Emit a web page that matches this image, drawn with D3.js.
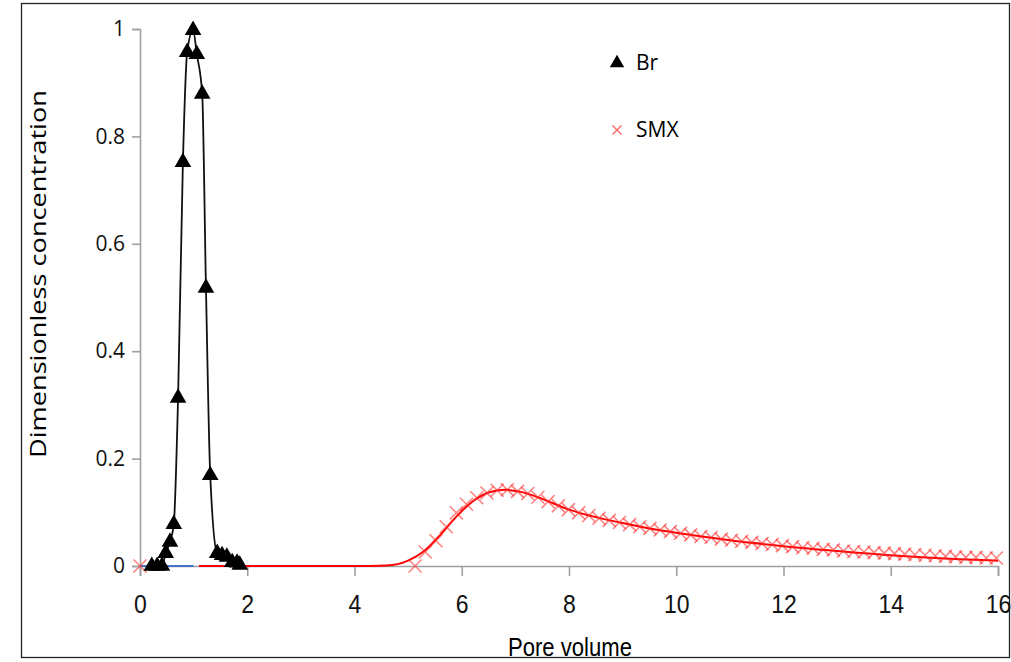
<!DOCTYPE html>
<html>
<head>
<meta charset="utf-8">
<script src="https://cdn.jsdelivr.net/npm/d3@7.9.0/dist/d3.min.js"></script>
<style>
  body { margin: 0; background: #fff; }
  svg { display: block; }
  .tick text { fill: #111; }
</style>
</head>
<body>
<svg id="chart" width="1011" height="662"></svg>
<script>
// Br observations (triangles)
const brPV = [0.22, 0.32, 0.41, 0.48, 0.56, 0.63, 0.71, 0.80, 0.88, 0.99, 1.06, 1.16, 1.23, 1.31, 1.44, 1.53, 1.62, 1.72, 1.81, 1.86];
const brC  = [0, 0, 0, 0.024, 0.045, 0.078, 0.313, 0.752, 0.957, 0.998, 0.953, 0.879, 0.518, 0.169, 0.024, 0.020, 0.017, 0.007, 0.006, 0.002];

// SMX observations (crosses)
const smxPV = [0, 5.13, 5.32, 5.52, 5.71, 5.90, 6.09, 6.28, 6.47, 6.66, 6.85, 7.04, 7.23, 7.42, 7.61, 7.80, 7.99,
  8.18, 8.37, 8.56, 8.75, 8.94, 9.13, 9.32, 9.51, 9.70, 9.89, 10.08, 10.27, 10.46, 10.65, 10.84, 11.03,
  11.22, 11.41, 11.60, 11.79, 11.98, 12.17, 12.36, 12.55, 12.74, 12.93, 13.12, 13.31, 13.50, 13.69, 13.88,
  14.07, 14.26, 14.45, 14.64, 14.83, 15.02, 15.21, 15.40, 15.59, 15.78, 15.97];
const smxC = [0, 0.000, 0.026, 0.047, 0.073, 0.099, 0.115, 0.127, 0.136, 0.141, 0.142, 0.139, 0.135, 0.128, 0.120, 0.112, 0.105,
  0.099, 0.094, 0.089, 0.085, 0.081, 0.077, 0.073, 0.070, 0.067, 0.064, 0.061, 0.058, 0.055, 0.053, 0.050, 0.048,
  0.046, 0.044, 0.042, 0.040, 0.038, 0.036, 0.034, 0.033, 0.031, 0.030, 0.028, 0.027, 0.026, 0.025, 0.024,
  0.023, 0.022, 0.021, 0.020, 0.019, 0.018, 0.017, 0.016, 0.016, 0.015, 0.015];

// fitted curves
const smxFitPV = [1.1, 2, 3, 4, 4.6, 5.0, 5.3, 5.6, 5.9, 6.2, 6.5, 6.8, 7.1, 7.5, 8, 8.5, 9, 9.5, 10, 11, 12, 13, 14, 15, 16];
const smxFitC  = [0, 0, 0, 0, 0.001, 0.010, 0.028, 0.058, 0.092, 0.120, 0.137, 0.142, 0.138, 0.125, 0.105, 0.091, 0.080, 0.070, 0.062, 0.048, 0.037, 0.028, 0.020, 0.014, 0.010];
const blueFitPV = [0, 1.0];
const blueFitC  = [0, 0];

const xTicks = [0, 2, 4, 6, 8, 10, 12, 14, 16];
const yTicks = [0, 0.2, 0.4, 0.6, 0.8, 1];

const svg = d3.select('#chart');

// outer frame
svg.append('rect')
  .attr('x', 21.5).attr('y', 3.5)
  .attr('width', 988).attr('height', 654)
  .attr('fill', 'none').attr('stroke', '#222').attr('stroke-width', 1.3);

const x = d3.scaleLinear().domain([0, 16]).range([140, 998]);
const y = d3.scaleLinear().domain([0, 1]).range([566, 29]);

// y axis
const yAxis = svg.append('g')
  .attr('transform', 'translate(140,0)')
  .call(d3.axisLeft(y).tickValues(yTicks).tickSize(8).tickPadding(7).tickFormat(d3.format('~g')));
yAxis.selectAll('.domain, .tick line').attr('stroke', '#a0a0a0').attr('stroke-width', 1.6);
yAxis.selectAll('.tick text')
  .attr('font-family', 'Open Sans, Noto Sans, sans-serif')
  .attr('font-size', 21);

// x axis on the zero line
const xAxis = svg.append('g')
  .attr('transform', `translate(0,${y(0)})`)
  .call(d3.axisBottom(x).tickValues(xTicks).tickSize(10).tickPadding(19));
xAxis.selectAll('.domain, .tick line').attr('stroke', '#a0a0a0').attr('stroke-width', 1.6);
xAxis.selectAll('.tick text')
  .attr('font-family', 'Liberation Sans Narrow, Arial Narrow, sans-serif')
  .attr('font-size', 25)
  .attr('transform', 'scale(0.92,1)');

// axis titles
svg.append('text')
  .attr('x', 570).attr('y', 656)
  .attr('text-anchor', 'middle')
  .attr('font-family', 'Liberation Sans Narrow, sans-serif')
  .attr('font-size', 25)
  .attr('textLength', 124).attr('lengthAdjust', 'spacingAndGlyphs')
  .text('Pore volume');

svg.append('text')
  .attr('transform', 'translate(46,274) rotate(-90)')
  .attr('text-anchor', 'middle')
  .attr('font-family', 'Open Sans, Noto Sans, sans-serif')
  .attr('font-size', 22)
  .attr('textLength', 368).attr('lengthAdjust', 'spacingAndGlyphs')
  .text('Dimensionless concentration');

const line = d3.line().x(d => x(d[0])).y(d => y(d[1]));

// blue fit near origin
svg.append('path')
  .datum(d3.zip(blueFitPV, blueFitC))
  .attr('d', line)
  .attr('fill', 'none').attr('stroke', '#4472c4').attr('stroke-width', 2);

// SMX fit
svg.append('path')
  .datum(d3.zip(smxFitPV, smxFitC))
  .attr('d', line.curve(d3.curveMonotoneX))
  .attr('fill', 'none').attr('stroke', '#ff0000').attr('stroke-width', 2);

// SMX crosses
const crossPath = s => `M${-s},${-s}L${s},${s}M${-s},${s}L${s},${-s}`;
svg.append('g').selectAll('path')
  .data(d3.zip(smxPV, smxC))
  .join('path')
  .attr('transform', d => `translate(${x(d[0])},${y(d[1])})`)
  .attr('d', crossPath(6.5))
  .attr('fill', 'none')
  .attr('stroke', '#ff3030').attr('stroke-opacity', 0.6).attr('stroke-width', 1.6);

// Br line + triangles
svg.append('path')
  .datum(d3.zip(brPV, brC))
  .attr('d', d3.line().x(d => x(d[0])).y(d => y(d[1])).curve(d3.curveMonotoneX))
  .attr('fill', 'none').attr('stroke', '#111').attr('stroke-width', 1.8);

const tri = d3.symbol().type(d3.symbolTriangle).size(120);
svg.append('g').selectAll('path')
  .data(d3.zip(brPV, brC))
  .join('path')
  .attr('transform', d => `translate(${x(d[0])},${y(d[1])})`)
  .attr('d', tri)
  .attr('fill', '#000');

// legend
const legend = svg.append('g').attr('font-family', 'Open Sans, Noto Sans, sans-serif').attr('font-size', 21);
legend.append('path').attr('transform', 'translate(617,63)').attr('d', d3.symbol().type(d3.symbolTriangle).size(90)).attr('fill', '#000');
legend.append('text').attr('x', 636).attr('y', 70).text('Br');
legend.append('path').attr('transform', 'translate(617,130)').attr('d', crossPath(4.5))
  .attr('stroke', '#ff3030').attr('stroke-opacity', 0.7).attr('stroke-width', 1.5);
legend.append('text').attr('x', 636).attr('y', 137).text('SMX');
</script>
</body>
</html>
